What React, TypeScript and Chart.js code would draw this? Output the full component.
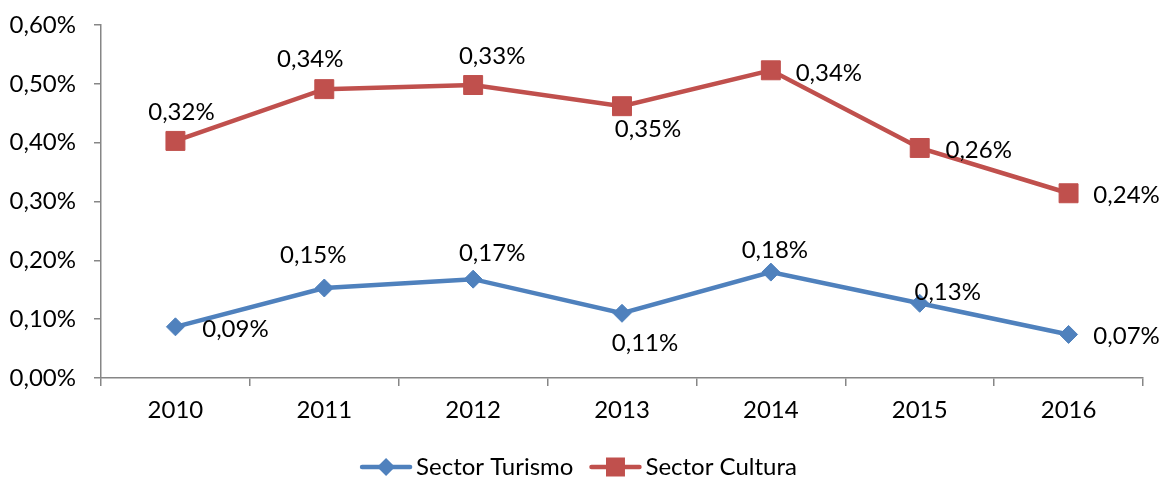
import React, { useEffect, useRef } from "react";
import { Chart, registerables } from "chart.js";

Chart.register(...registerables);

const categories = ["2010", "2011", "2012", "2013", "2014", "2015", "2016"];
const turismo = [0.087, 0.153, 0.168, 0.11, 0.18, 0.127, 0.074];
const cultura = [0.316, 0.338, 0.33, 0.352, 0.343, 0.264, 0.24];
const seriesNames = ["Sector Turismo", "Sector Cultura"];
const yTicks = [0, 0.1, 0.2, 0.3, 0.4, 0.5, 0.6];

// label placement (style): offset of label centre from its point, px
const turismoLabelOffsets = [
  [60, 2], [-11, -33], [19, -26], [23, 30], [4, -22], [28, -11], [58, 2],
];
const culturaLabelOffsets = [
  [6, -29], [-14, -30], [19, -29], [26, 23], [58, 3], [59, 2], [58, 2],
];

const BLUE = "#4F81BD";
const RED = "#C0504D";
const AXIS = "#868686";
const FONT = "Lato";
const FS = 24;

const fmt = (v: number) => v.toFixed(2).replace(".", ",") + "%";

const dataLabelPlugin = {
  id: "dataLabels",
  afterDatasetsDraw(chart: any) {
    const ctx = chart.ctx;
    const offsets = [turismoLabelOffsets, culturaLabelOffsets];
    ctx.save();
    ctx.font = `${FS}px ${FONT}`;
    ctx.fillStyle = "#000";
    ctx.textAlign = "center";
    ctx.textBaseline = "middle";
    chart.data.datasets.forEach((ds: any, i: number) => {
      const meta = chart.getDatasetMeta(i);
      meta.data.forEach((pt: any, j: number) => {
        const [dx, dy] = offsets[i][j];
        ctx.fillText(fmt(ds.data[j]), pt.x + dx, pt.y + dy);
      });
    });
    ctx.restore();
  },
};

const legendPlugin = {
  id: "customLegend",
  afterDraw(chart: any) {
    const ctx = chart.ctx;
    const colors = [BLUE, RED];
    const styles = ["diamond", "square"];
    ctx.save();
    ctx.font = `${FS}px ${FONT}`;
    const lineW = 52;
    const gapText = 4;
    const gapItem = 16;
    const widths = seriesNames.map((n) => ctx.measureText(n).width);
    const total = widths.reduce((a, w) => a + lineW + gapText + w, 0) + gapItem;
    let x = 578.5 - total / 2;
    const y = 467;
    seriesNames.forEach((name, i) => {
      ctx.strokeStyle = colors[i];
      ctx.fillStyle = colors[i];
      ctx.lineWidth = 4.5;
      ctx.lineCap = "round";
      ctx.beginPath();
      ctx.moveTo(x + 2, y);
      ctx.lineTo(x + lineW - 2, y);
      ctx.stroke();
      const cx = x + lineW / 2;
      ctx.beginPath();
      if (styles[i] === "diamond") {
        const r = 9;
        ctx.moveTo(cx, y - r);
        ctx.lineTo(cx + r, y);
        ctx.lineTo(cx, y + r);
        ctx.lineTo(cx - r, y);
        ctx.closePath();
      } else {
        const h = 9.5;
        ctx.rect(cx - h, y - h, 2 * h, 2 * h);
      }
      ctx.fill();
      ctx.fillStyle = "#000";
      ctx.textAlign = "left";
      ctx.textBaseline = "middle";
      ctx.fillText(name, x + lineW + gapText, y);
      x += lineW + gapText + widths[i] + gapItem;
    });
    ctx.restore();
  },
};

export default function App() {
  const ref = useRef<HTMLCanvasElement>(null);
  useEffect(() => {
    document.body.style.margin = "0";
    const chart = new Chart(ref.current!, {
      type: "line",
      data: {
        labels: categories,
        datasets: [
          {
            label: seriesNames[0],
            data: turismo,
            borderColor: BLUE,
            backgroundColor: BLUE,
            borderWidth: 4.5,
            pointStyle: "rectRot",
            pointRadius: 9,
            pointBorderWidth: 1,
            fill: false,
            tension: 0,
          },
          {
            label: seriesNames[1],
            data: cultura,
            borderColor: RED,
            backgroundColor: RED,
            borderWidth: 4.5,
            pointStyle: "rect",
            pointRadius: 13.4,
            pointBorderWidth: 1,
            fill: false,
            tension: 0,
          },
        ],
      },
      options: {
        responsive: false,
        animation: false,
        layout: { padding: { top: 25, right: 17, left: 0, bottom: 0 } },
        plugins: { legend: { display: false }, tooltip: { enabled: false } },
        scales: {
          x: {
            offset: true,
            grid: {
              offset: true,
              drawOnChartArea: false,
              drawTicks: true,
              tickLength: 8,
              color: AXIS,
              lineWidth: 1.5,
            },
            border: { display: true, color: AXIS, width: 1.5 },
            ticks: {
              color: "#000",
              font: { family: FONT, size: FS },
              padding: 10,
              maxRotation: 0,
            },
            afterFit: (s: any) => {
              s.height = 100;
              s.paddingLeft = 0;
              s.paddingRight = 0;
            },
          },
          y: {
            stacked: true,
            min: 0,
            max: 0.6,
            afterBuildTicks: (s: any) => {
              s.ticks = yTicks.map((v) => ({ value: v }));
            },
            grid: {
              drawOnChartArea: false,
              drawTicks: true,
              tickLength: 7,
              color: AXIS,
              lineWidth: 1.5,
            },
            border: { display: true, color: AXIS, width: 1.5 },
            ticks: {
              color: "#000",
              font: { family: FONT, size: FS },
              padding: 18,
              callback: (v: any) => fmt(Number(v)),
            },
            afterFit: (s: any) => {
              s.width = 101;
              s.paddingTop = 0;
              s.paddingBottom = 0;
            },
          },
        },
      },
      plugins: [dataLabelPlugin, legendPlugin],
    });
    return () => chart.destroy();
  }, []);
  return (
    <div style={{ width: 1160, height: 478 }}>
      <canvas ref={ref} width={1160} height={478} />
    </div>
  );
}
